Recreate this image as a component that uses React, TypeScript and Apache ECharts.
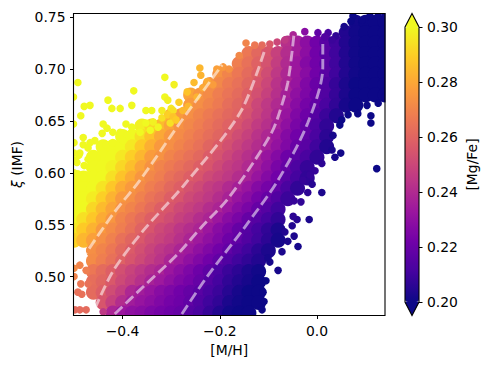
import React, { useEffect, useRef } from "react";
import * as echarts from "echarts";

// Plasma colormap stops and axis ticks
const plasma = ["#0d0887", "#46039f", "#7201a8", "#9c179e", "#bd3786", "#d8576b", "#ed7953", "#fb9f3a", "#fdca26", "#f0f921"];
const xTicks = [-0.4, -0.2, 0];
const yTicks = [0.5, 0.55, 0.6, 0.65, 0.7, 0.75];

// Dense part of the cloud: Mg/Fe (thousandths) read on a [M/H] / xi lattice
const gridMH = [-0.5, -0.48, -0.46, -0.44, -0.42, -0.4, -0.38, -0.36, -0.34, -0.32, -0.3, -0.28, -0.26, -0.24, -0.22, -0.2, -0.18, -0.16, -0.14, -0.12, -0.1, -0.08, -0.06, -0.04, -0.02, 0, 0.02, 0.04, 0.06, 0.08, 0.1, 0.12, 0.14];
const rowImf = [0.745, 0.735, 0.725, 0.715, 0.705, 0.695, 0.685, 0.675, 0.665, 0.655, 0.645, 0.635, 0.625, 0.615, 0.605, 0.595, 0.585, 0.575, 0.565, 0.555, 0.545, 0.535, 0.525, 0.515, 0.505, 0.495, 0.485, 0.475, 0.465];
const rowFirst = [29, 28, 22, 18, 17, 15, 14, 12, 12, 10, 7, 5, 3, 2, 2, 0, 0, 0, 0, 0, 0, 0, 2, 2, 2, 2, 2, 3, 4];
const rowMgFe = [
  [201, 200, 200, 200],
  [204, 201, 200, 200, 200],
  [242, 235, 229, 222, 216, 210, 204, 201, 200, 200, 200],
  [266, 261, 255, 248, 241, 235, 229, 222, 216, 210, 204, 201, 200, 200, 200],
  [268, 264, 259, 254, 247, 240, 233, 227, 222, 216, 210, 204, 201, 200, 200, 200],
  [274, 270, 266, 262, 258, 252, 245, 239, 233, 228, 222, 216, 210, 204, 201, 200, 200, 200],
  [275, 271, 267, 264, 260, 255, 250, 243, 238, 232, 226, 220, 214, 208, 203, 200, 200, 200, 200],
  [279, 275, 272, 268, 265, 262, 258, 253, 248, 242, 236, 230, 225, 220, 214, 208, 203, 200, 200, 200, 200],
  [276, 273, 270, 267, 263, 260, 256, 250, 245, 240, 234, 228, 223, 218, 212, 207, 202, 200],
  [283, 276, 273, 270, 267, 264, 261, 259, 254, 249, 244, 238, 232, 226, 221, 215, 209, 204],
  [298, 292, 285, 279, 274, 271, 268, 265, 262, 259, 255, 251, 246, 242, 236, 230, 224, 219, 213, 207],
  [300, 300, 294, 287, 280, 275, 272, 269, 266, 263, 260, 256, 252, 248, 243, 239, 233, 227, 222, 218, 212, 206],
  [300, 300, 300, 296, 289, 282, 276, 273, 270, 267, 264, 260, 257, 253, 249, 245, 241, 236, 231, 226, 220, 216, 210, 204],
  [300, 300, 300, 296, 290, 284, 277, 274, 270, 267, 264, 261, 257, 254, 250, 246, 242, 238, 232, 227, 221, 216, 212, 207],
  [300, 300, 298, 292, 286, 279, 274, 270, 267, 264, 261, 258, 255, 251, 247, 244, 240, 235, 230, 224, 219, 213, 208],
  [300, 300, 300, 300, 294, 287, 281, 275, 271, 268, 264, 261, 258, 255, 251, 248, 245, 241, 237, 232, 227, 222, 216, 211, 207],
  [300, 300, 300, 295, 288, 281, 276, 272, 268, 265, 261, 258, 254, 251, 247, 244, 240, 236, 232, 227, 223, 218, 212, 207],
  [300, 300, 297, 290, 283, 276, 273, 269, 265, 262, 258, 255, 251, 248, 245, 241, 237, 232, 228, 223, 219, 214, 209],
  [300, 300, 292, 285, 279, 273, 270, 266, 262, 258, 255, 251, 248, 245, 241, 238, 233, 228, 224, 219, 215, 210],
  [300, 294, 288, 281, 275, 270, 266, 262, 258, 255, 252, 248, 245, 241, 238, 233, 228, 224, 219, 215, 211, 207],
  [296, 289, 283, 276, 272, 268, 264, 259, 255, 251, 248, 244, 241, 238, 233, 228, 224, 219, 215, 211, 207, 203],
  [291, 284, 278, 273, 269, 264, 260, 256, 252, 249, 246, 242, 238, 234, 230, 226, 221, 218, 214, 210, 206, 202],
  [273, 270, 266, 261, 257, 253, 249, 245, 242, 238, 234, 230, 226, 222, 218, 214, 210, 206, 203],
  [272, 268, 264, 259, 255, 251, 247, 243, 238, 234, 230, 226, 222, 218, 214, 210, 207, 204],
  [266, 262, 258, 253, 249, 245, 241, 238, 233, 229, 225, 221, 217, 213, 209, 206, 203, 201],
  [263, 260, 256, 251, 247, 242, 237, 234, 230, 226, 223, 219, 215, 211, 207, 204, 202, 200],
  [262, 258, 252, 247, 239, 235, 232, 228, 225, 222, 219, 216, 212, 209, 205, 202, 200, 200],
  [255, 248, 241, 235, 232, 229, 226, 223, 221, 218, 214, 210, 207, 203, 201, 200, 200],
  [238, 233, 230, 228, 225, 223, 221, 219, 215, 212, 208, 204, 201, 200, 200],
];

// Individually visible stars on the rim of the cloud: [M/H], xi, Mg/Fe
const rimStars = [
  [-0.492, 0.687, 0.3], [-0.479, 0.664, 0.3], [-0.467, 0.665, 0.3], [-0.486, 0.655, 0.3], [-0.501, 0.647, 0.3], [-0.501, 0.673, 0.3],
  [-0.43, 0.67, 0.3], [-0.377, 0.679, 0.3], [-0.422, 0.662, 0.3], [-0.405, 0.662, 0.3], [-0.381, 0.665, 0.3], [-0.352, 0.66, 0.3],
  [-0.34, 0.66, 0.3], [-0.313, 0.692, 0.3], [-0.294, 0.685, 0.298], [-0.313, 0.673, 0.3], [-0.307, 0.67, 0.298], [-0.3, 0.662, 0.296],
  [-0.319, 0.66, 0.297], [-0.296, 0.66, 0.294], [-0.284, 0.668, 0.29], [-0.267, 0.678, 0.287], [-0.253, 0.687, 0.285], [-0.241, 0.701, 0.284],
  [-0.239, 0.694, 0.283], [-0.226, 0.688, 0.281], [-0.206, 0.7, 0.278], [-0.193, 0.702, 0.276], [-0.181, 0.7, 0.274], [-0.16, 0.713, 0.271],
  [-0.146, 0.725, 0.27], [-0.247, 0.673, 0.283], [-0.235, 0.682, 0.28], [-0.214, 0.685, 0.277], [-0.276, 0.66, 0.284], [-0.265, 0.664, 0.284],
  [-0.44, 0.647, 0.3], [-0.432, 0.643, 0.3], [-0.442, 0.638, 0.3], [-0.42, 0.639, 0.3], [-0.405, 0.639, 0.3], [-0.393, 0.647, 0.3],
  [-0.381, 0.644, 0.3], [-0.391, 0.636, 0.3], [-0.352, 0.648, 0.3], [-0.337, 0.649, 0.298], [-0.319, 0.653, 0.294], [-0.307, 0.656, 0.29],
  [-0.296, 0.654, 0.287], [-0.481, 0.634, 0.3], [-0.5, 0.629, 0.3], [-0.457, 0.631, 0.3], [-0.467, 0.629, 0.3], [-0.481, 0.627, 0.3],
  [-0.49, 0.617, 0.3], [-0.494, 0.61, 0.3], [-0.471, 0.613, 0.3], [-0.453, 0.615, 0.3], [-0.5, 0.6, 0.3],
  [-0.364, 0.639, 0.3], [-0.343, 0.641, 0.3], [-0.327, 0.644, 0.299], [-0.302, 0.648, 0.294], [-0.29, 0.651, 0.289], [-0.42, 0.629, 0.3],
  [-0.399, 0.631, 0.3], [-0.434, 0.627, 0.3], [-0.471, 0.624, 0.3], [-0.488, 0.619, 0.3], [-0.461, 0.617, 0.3], [-0.498, 0.612, 0.3],
  [-0.479, 0.607, 0.3], [-0.5, 0.619, 0.3], [-0.492, 0.599, 0.3], [-0.479, 0.595, 0.3],
  [-0.128, 0.723, 0.266], [-0.113, 0.723, 0.262], [-0.097, 0.724, 0.256], [-0.082, 0.726, 0.25], [-0.066, 0.728, 0.245], [-0.049, 0.733, 0.238],
  [-0.025, 0.736, 0.228], [0.002, 0.735, 0.218], [0.023, 0.735, 0.212], [0.039, 0.732, 0.207], [0.056, 0.741, 0.202], [0.074, 0.751, 0.2],
  [0.07, 0.746, 0.2], [0.093, 0.747, 0.2], [0.109, 0.751, 0.2], [0.126, 0.751, 0.2], [0.14, 0.753, 0.2], [0.016, 0.731, 0.214], [0.031, 0.728, 0.209],
  [0.103, 0.665, 0.2], [0.126, 0.667, 0.2], [0.14, 0.673, 0.2], [0.111, 0.655, 0.2], [0.111, 0.648, 0.2], [0.084, 0.657, 0.2],
  [0.064, 0.656, 0.2], [0.051, 0.651, 0.2], [0.047, 0.646, 0.2], [0.033, 0.636, 0.202], [0.031, 0.622, 0.203], [0.049, 0.619, 0.201],
  [0.037, 0.615, 0.202], [0.01, 0.609, 0.206], [0.123, 0.604, 0.2], [-0.004, 0.602, 0.208], [-0.014, 0.598, 0.208], [0.01, 0.581, 0.203],
  [-0.01, 0.589, 0.205], [-0.019, 0.581, 0.206], [-0.033, 0.572, 0.207], [-0.047, 0.573, 0.208], [-0.016, 0.555, 0.203], [-0.041, 0.555, 0.205],
  [-0.049, 0.558, 0.206], [-0.047, 0.539, 0.203], [-0.039, 0.529, 0.202], [-0.06, 0.534, 0.203], [-0.072, 0.524, 0.203], [-0.08, 0.506, 0.202],
  [-0.105, 0.496, 0.2], [-0.111, 0.485, 0.2], [-0.109, 0.476, 0.2], [-0.113, 0.468, 0.2], [-0.097, 0.514, 0.202], [-0.101, 0.518, 0.202],
  [-0.066, 0.543, 0.204], [-0.051, 0.549, 0.204], [-0.029, 0.593, 0.208],
  [-0.498, 0.468, 0.262], [-0.488, 0.468, 0.262], [-0.475, 0.468, 0.262], [-0.486, 0.493, 0.266], [-0.471, 0.493, 0.264],
  [-0.484, 0.483, 0.264], [-0.492, 0.485, 0.264], [-0.475, 0.506, 0.268], [-0.488, 0.511, 0.27],
  [-0.5, 0.508, 0.272], [-0.5, 0.5, 0.27], [-0.44, 0.466, 0.245],
];

// Dashed contours
const contourA = [[-0.486, 0.515], [-0.42, 0.56], [-0.364, 0.593], [-0.282, 0.648], [-0.195, 0.704]];
const contourB = [[-0.457, 0.469], [-0.42, 0.505], [-0.358, 0.544], [-0.272, 0.589], [-0.158, 0.658], [-0.107, 0.719]];
const contourC = [[-0.416, 0.464], [-0.358, 0.49], [-0.288, 0.521], [-0.237, 0.548], [-0.185, 0.574], [-0.128, 0.612], [-0.093, 0.639], [-0.08, 0.654], [-0.06, 0.687], [-0.047, 0.735]];
const contourD = [[-0.278, 0.464], [-0.226, 0.5], [-0.148, 0.548], [-0.08, 0.593], [-0.019, 0.648], [0.012, 0.702], [0.012, 0.726]];

const FONT = "DejaVu Sans";
const FS = 13.9;

export default function App() {
  const ref = useRef<HTMLDivElement>(null);
  useEffect(() => {
    const chart = echarts.init(ref.current!, undefined, { renderer: "svg" });
    const core: number[][] = [];
    rowMgFe.forEach((vals, r) => {
      vals.forEach((v, i) => core.push([gridMH[rowFirst[r] + i], rowImf[r], v / 1000]));
    });
    const contour = (data: number[][]) => ({
      type: "line",
      data,
      xAxisIndex: 0,
      yAxisIndex: 0,
      smooth: 0.3,
      showSymbol: false,
      symbol: "none",
      z: 3,
      silent: true,
      lineStyle: { color: "rgba(255,255,255,0.55)", width: 2.9, type: [10.5, 4.5] },
    });
    const axisText = { color: "#000", fontFamily: FONT, fontSize: FS };
    chart.setOption({
      animation: false,
      backgroundColor: "#fff",
      textStyle: { fontFamily: FONT },
      grid: [
        { left: 73.5, top: 13.5, width: 311.5, height: 302 },
        { left: 405, top: 27, width: 14, height: 275 },
      ],
      xAxis: [
        {
          gridIndex: 0,
          type: "value",
          min: -0.501,
          max: 0.14,
          z: 10,
          splitLine: { show: false },
          axisLine: { show: false, onZero: false },
          axisTick: { length: 3.5, lineStyle: { color: "#000", width: 1 }, customValues: xTicks },
          axisLabel: {
            ...axisText,
            margin: 8,
            customValues: xTicks,
            formatter: (v: number) => (v < 0 ? "\u2212" + Math.abs(v).toFixed(1) : v.toFixed(1)),
          },
          name: "[M/H]",
          nameLocation: "middle",
          nameGap: 27,
          nameTextStyle: axisText,
        },
        { gridIndex: 1, type: "value", min: 0, max: 1, show: false },
      ],
      yAxis: [
        {
          gridIndex: 0,
          type: "value",
          min: 0.4625,
          max: 0.7535,
          z: 10,
          splitLine: { show: false },
          axisLine: { show: false, onZero: false },
          axisTick: { length: 3.5, lineStyle: { color: "#000", width: 1 }, customValues: yTicks },
          axisLabel: { ...axisText, margin: 8, customValues: yTicks, formatter: (v: number) => v.toFixed(2) },
          name: "{i|\u03be} (IMF)",
          nameLocation: "middle",
          nameGap: 41,
          nameRotate: 90,
          nameTextStyle: { ...axisText, rich: { i: { fontStyle: "italic", fontFamily: FONT, fontSize: FS, color: "#000" } } },
        },
        {
          gridIndex: 1,
          type: "value",
          position: "right",
          min: 0.2,
          max: 0.3,
          interval: 0.02,
          z: 10,
          splitLine: { show: false },
          axisLine: { show: false, onZero: false },
          axisTick: { length: 3.5, lineStyle: { color: "#000", width: 1 } },
          axisLabel: { ...axisText, margin: 8, formatter: (v: number) => v.toFixed(2) },
          name: "[Mg/Fe]",
          nameLocation: "middle",
          nameGap: 46,
          nameRotate: 90,
          nameTextStyle: axisText,
        },
      ],
      visualMap: {
        type: "continuous",
        min: 0.2,
        max: 0.3,
        dimension: 2,
        seriesIndex: [0, 1],
        inRange: { color: plasma },
        left: 405,
        top: 27,
        itemWidth: 14,
        itemHeight: 275,
        padding: 0,
        calculable: false,
        hoverLink: false,
        align: "left",
        orient: "vertical",
      },
      series: [
        { type: "scatter", data: core, xAxisIndex: 0, yAxisIndex: 0, symbolSize: 15, clip: false, z: 2, progressive: 0, silent: true, itemStyle: { opacity: 1 } },
        { type: "scatter", data: rimStars, xAxisIndex: 0, yAxisIndex: 0, symbolSize: 7.6, clip: false, z: 2, progressive: 0, silent: true, itemStyle: { opacity: 1 } },
        contour(contourA),
        contour(contourB),
        contour(contourC),
        contour(contourD),
      ],
      graphic: [
        { type: "rect", z: 5, shape: { x: 0, y: 0, width: 73, height: 340 }, style: { fill: "#fff" } },
        { type: "rect", z: 5, shape: { x: 385.5, y: 0, width: 18, height: 340 }, style: { fill: "#fff" } },
        { type: "rect", z: 5, shape: { x: 60, y: 0, width: 330, height: 13 }, style: { fill: "#fff" } },
        { type: "rect", z: 5, shape: { x: 60, y: 316, width: 330, height: 24 }, style: { fill: "#fff" } },
        { type: "rect", z: 6, shape: { x: 73.5, y: 13.5, width: 311.5, height: 302 }, style: { fill: "none", stroke: "#000", lineWidth: 1.1 } },
        { type: "polygon", z: 6, shape: { points: [[405, 27], [412, 13.5], [419, 27]] }, style: { fill: "#f0f921" } },
        { type: "polygon", z: 6, shape: { points: [[405, 302], [412, 315.5], [419, 302]] }, style: { fill: "#0d0887" } },
        { type: "polygon", z: 7, shape: { points: [[405, 27], [412, 13.5], [419, 27], [419, 302], [412, 315.5], [405, 302]] }, style: { fill: "none", stroke: "#000", lineWidth: 1.1 } },
      ],
    });
    return () => chart.dispose();
  }, []);
  return <div ref={ref} style={{ position: "absolute", left: 0, top: 0, width: 490, height: 368 }} />;
}
